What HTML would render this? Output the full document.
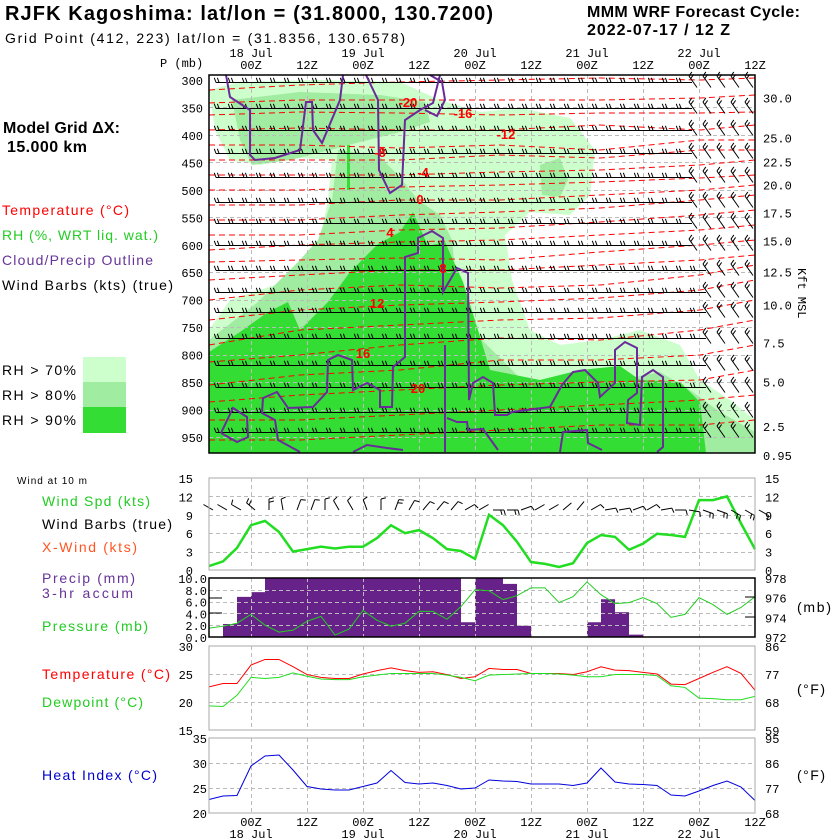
<!DOCTYPE html>
<html><head><meta charset="utf-8"><style>
html,body{margin:0;padding:0;background:#fff;}
svg{display:block;font-family:"Liberation Sans","DejaVu Sans",sans-serif;}
.tk{font-family:"Liberation Mono","DejaVu Sans Mono",monospace;font-size:12px;}
</style></head><body>
<svg id="chart" width="840" height="840" viewBox="0 0 840 840" xmlns="http://www.w3.org/2000/svg">
<g>
<text x="5" y="20" font-size="20" font-weight="bold" textLength="488">RJFK Kagoshima:  lat/lon = (31.8000, 130.7200)</text>
<text x="5" y="43" font-size="14" textLength="400">Grid Point (412, 223) lat/lon = (31.8356, 130.6578)</text>
<text x="587" y="17" font-size="16" font-weight="bold" textLength="213">MMM WRF Forecast Cycle:</text>
<text x="587" y="35" font-size="16" font-weight="bold" textLength="143">2022-07-17 / 12  Z</text>
<text x="3" y="133" font-size="16" font-weight="bold" textLength="117">Model Grid ΔX:</text>
<text x="7" y="152" font-size="16" font-weight="bold" textLength="80">15.000 km</text>
<text x="2" y="215" font-size="14" fill="#ff0000" textLength="127">Temperature (°C)</text>
<text x="2" y="240" font-size="14" fill="#22cc22" textLength="156">RH (%, WRT liq. wat.)</text>
<text x="2" y="265" font-size="14" fill="#663399" textLength="151">Cloud/Precip Outline</text>
<text x="2" y="290" font-size="14" fill="#000" textLength="171">Wind Barbs (kts) (true)</text>
<text x="2" y="375" font-size="14" textLength="74">RH &gt; 70%</text>
<text x="2" y="400" font-size="14" textLength="74">RH &gt; 80%</text>
<text x="2" y="425" font-size="14" textLength="74">RH &gt; 90%</text>
<rect x="83" y="357" width="43" height="25" fill="#ccffcc"/>
<rect x="83" y="382" width="43" height="25" fill="#a0eca0"/>
<rect x="83" y="407" width="43" height="26" fill="#33dd33"/>
<text x="17" y="484" font-size="10" textLength="70">Wind at 10 m</text>
<text x="42" y="506" font-size="14" fill="#22cc22" textLength="108">Wind Spd (kts)</text>
<text x="42" y="529" font-size="14" textLength="130">Wind Barbs (true)</text>
<text x="42" y="552" font-size="14" fill="#ff5522" textLength="95">X-Wind (kts)</text>
<text x="42" y="583" font-size="14" fill="#663399" textLength="93">Precip (mm)</text>
<text x="42" y="598" font-size="14" fill="#663399" textLength="91">3-hr accum</text>
<text x="42" y="631" font-size="14" fill="#22cc22" textLength="106">Pressure (mb)</text>
<text x="42" y="679" font-size="14" fill="#ff0000" textLength="128">Temperature (°C)</text>
<text x="42" y="707" font-size="14" fill="#22cc22" textLength="101">Dewpoint (°C)</text>
<text x="42" y="780" font-size="14" fill="#0000cc" textLength="115">Heat Index (°C)</text>
<text x="797" y="612" font-size="14" textLength="34">(mb)</text>
<text x="797" y="694" font-size="14" textLength="28">(°F)</text>
<text x="797" y="780" font-size="14" textLength="28">(°F)</text>
<text x="160" y="67" class="tk">P (mb)</text>
<text x="0" y="0" class="tk" font-size="11" transform="translate(798,268) rotate(90)">Kft MSL</text>
</g>
<g id="topG"></g>
<g id="bottom"></g>
</svg>
<script>
// ---- data ----
const timeTicks = ["00Z","12Z","00Z","12Z","00Z","12Z","00Z","12Z","00Z","12Z"];
const dateTicks = ["18 Jul","19 Jul","20 Jul","21 Jul","22 Jul"];
const pressureLevels = [300,350,400,450,500,550,600,650,700,750,800,850,900,950];
const heightTicks = ["30.0","25.0","22.5","20.0","17.5","15.0","12.5","10.0","7.5","5.0","2.5","0.95"];
const heightTickP = [332,405,448,490,541,592,649,709,778,849,930,983];
const windSpeed = [0.65,1.4,3.6,7.3,8.0,6.2,3.0,3.4,3.8,3.5,3.8,3.8,5.2,7.3,6.0,6.5,5.2,3.4,3.1,1.8,9.0,7.3,4.6,1.3,1.0,0.5,1.1,4.4,5.7,5.4,3.3,4.3,5.9,5.7,5.4,11.4,11.4,12.0,7.6,3.4];
const precip3h = [0,2.2,6.8,7.6,12,12,12,12,12,12,12,12,12,12,12,12,12,12,2.5,12,12,9.0,1.9,0,0,0,0,2.5,6.4,4.2,0.4,0,0,0,0,0,0,0,0];
const pressure = [972.9,973.1,973.4,974.3,973.2,972.5,972.7,973.6,974.1,972.2,972.8,974.7,973.7,973.1,973.4,974.6,974.6,973.8,975.1,976.8,976.7,975.8,976.2,977.0,977.0,975.5,976.1,977.6,976.3,975.4,975.5,976.0,975.4,974.0,974.3,976.0,975.3,974.3,975.0,976.1];
const temperature = [22.7,23.3,23.3,26.6,27.6,27.6,26.3,24.9,24.4,24.2,24.2,25.0,25.6,26.1,25.6,25.3,25.4,24.9,24.2,24.5,26.0,25.8,25.8,25.1,25.1,25.1,24.9,25.4,26.3,25.7,25.6,25.3,25.0,23.2,23.1,24.2,25.3,26.3,25.1,22.1];
const dewpoint = [19.3,19.2,21.2,24.4,24.2,24.4,25.2,24.6,24.1,24.0,24.0,24.5,24.8,25.1,25.1,25.1,25.1,24.8,24.4,23.8,24.8,24.9,25.0,25.1,25.1,25.0,24.8,24.5,24.5,24.9,24.9,24.9,24.7,22.9,22.6,20.7,20.6,20.4,20.4,21.0];
const heatIndex = [22.7,23.4,23.5,29.4,31.4,31.6,28.6,25.3,24.8,24.6,24.6,25.3,26.0,28.5,26.1,25.8,26.0,25.5,24.8,25.0,26.6,26.4,26.3,25.8,25.8,25.8,25.5,26.0,29.0,26.2,25.8,25.7,25.5,23.6,23.4,24.4,25.5,26.4,25.2,22.5];
const sfcWindDir = [300,300,300,310,0,350,20,20,0,330,330,340,0,20,30,40,40,40,60,60,90,90,70,60,60,50,40,60,80,80,70,60,80,90,100,110,110,120,120,120];
const tempLabels = ["-20","-16","-12","-8","-4","0","4","8","12","16","20"];
const tempLabelPos = [[408,107],[463,118],[506,139],[380,157],[423,177],[420,204],[390,237],[443,273],[377,308],[363,358],[418,393]];

// ---- helpers ----
const NS="http://www.w3.org/2000/svg";
const X0=209, DX=14;
function xAt(i){return X0+DX*i;}
function pY(p){return 80+(p-300)*27.46/50;}
function windY(v){return 570-v*92/15;}
function precipY(v){return 637-Math.min(v,10)*5.9;}
function presY(p){return 637-(p-972)*59/6;}
function tY(t){return 646+(30-t)*84/15;}
function hiY(h){return 738+(35-h)*5;}
function mk(parent,tag,attrs){const e=document.createElementNS(NS,tag);for(const k in attrs)e.setAttribute(k,attrs[k]);parent.appendChild(e);return e;}
function txt(parent,x,y,s,attrs){const e=mk(parent,'text',Object.assign({x:x,y:y},attrs||{}));e.textContent=s;return e;}
const topG=document.getElementById('topG'), bot=document.getElementById('bottom');
const gridX=[251,307,363,419,475,531,587,643,699];

// ---- top panel ----
mk(topG,'rect',{x:209,y:75,width:546,height:378,fill:'#fff'});
const rh=mk(topG,'g',{});
let e;
e=mk(rh,'polygon',{fill:'#ccffcc',points:'209,90 240,82 320,80 400,82 440,100 480,112 520,108 570,118 595,150 590,195 570,215 530,212 505,235 512,280 530,330 560,345 600,340 640,330 680,345 700,380 730,400 755,420 755,453 209,453 209,330 230,300 260,290 290,280 318,250 328,200 332,160 300,158 260,165 230,160 215,130'});


e=mk(rh,'polygon',{fill:'#a0eca0',points:'232,100 300,92 380,95 425,102 430,122 400,132 360,142 330,150 290,160 252,165 240,140'});


e=mk(rh,'polygon',{fill:'#a0eca0',points:'338,150 378,155 398,175 418,200 440,215 452,240 458,300 472,330 520,378 560,388 620,380 660,372 690,390 720,412 755,432 755,453 209,453 209,340 258,302 298,262 318,240 332,200'});


e=mk(rh,'polygon',{fill:'#a0eca0',points:'540,165 560,158 568,180 560,197 542,195'});


e=mk(rh,'polygon',{fill:'#33dd33',points:'209,352 240,332 268,312 288,302 300,330 328,302 350,272 378,244 400,232 413,212 428,246 445,242 463,282 478,330 490,370 540,380 580,370 620,366 640,380 680,382 700,402 706,453 209,453'});


mk(rh,'rect',{x:347,y:145,width:3,height:45,fill:'#33dd33'});

// grid
const tg=mk(topG,'g',{stroke:'#bbb','stroke-dasharray':'4,3','stroke-width':1});
gridX.forEach(x=>mk(tg,'line',{x1:x+0.5,y1:75,x2:x+0.5,y2:453}));
pressureLevels.forEach(p=>{if(p>300)mk(tg,'line',{x1:209,y1:Math.round(pY(p))+0.5,x2:755,y2:Math.round(pY(p))+0.5});});

// temperature dashed lines
const tXs=[209,300,400,500,600,700,755];
const tLines=[[90,85,82,80,78,80,78],[103,100,100,100,100,98,95],[115,112,113,115,113,113,112],[130,128,130,130,125,130,125],[145,145,148,145,150,140,140],[160,160,160,155,158,150,150],[175,175,175,172,170,165,160],[190,190,187,185,182,178,175],[205,205,200,200,195,190,185],[220,220,215,212,208,200,195],[235,235,230,228,222,215,210],[250,245,242,240,235,230,225],[262,260,258,260,252,245,240],[280,275,270,270,265,260,255],[300,290,285,288,285,275,265],[320,310,305,302,298,290,280],[345,330,325,320,318,310,300],[362,355,345,338,340,330,320],[385,375,370,360,360,355,345],[402,395,390,385,382,380,370],[420,420,415,410,405,400,395],[440,440,435,430,425,425,420]];
const tl=mk(topG,'g',{fill:'none',stroke:'#ff0000','stroke-width':1,'stroke-dasharray':'6,4'});
tLines.forEach(l=>{const line=mk(tl,'polyline',{points:l.map((y,k)=>tXs[k]+','+y).join(' ')});

});

// wind barbs
const bg=mk(topG,'g',{stroke:'#000','stroke-width':1,fill:'none'});
const rows=[82,108,130,153,177,202,223,245,270,292,312,338,365,387,412,432];
function barb(g,x,y,ang,n,fl){
  const a=ang*Math.PI/180, L=14;
  const ex=x+L*Math.cos(a), ey=y-L*Math.sin(a);
  mk(g,'line',{x1:x,y1:y,x2:ex,y2:ey});
  const fa=a-Math.PI*70/180;
  for(let k=0;k<n;k++){
    const t=1-k*0.22;
    const bx=x+L*t*Math.cos(a), by=y-L*t*Math.sin(a);
    mk(g,'line',{x1:bx,y1:by,x2:bx+fl*Math.cos(fa),y2:by-fl*Math.sin(fa)});
  }
}
rows.forEach((y,r)=>{
  const yy=Math.round(y)+0.5;
  const diagStart = (y<250)?690:(y>390?700:695);
  for(let i=0;i<39;i++){
    const x=xAt(i)+7;
    if(x<diagStart){
      barb(bg,x+14,yy,180,2,5);
    } else {
      barb(bg,x+5,yy+5,125,2,5);
    }
  }
});

// cloud outlines
const cg=mk(topG,'g',{fill:'none',stroke:'#6a2a9a','stroke-width':2});
const outlines=[
'226,75 230,97 250,110 250,155 255,160 275,158 300,150 306,102 312,102 313,130 322,143 340,100 343,75',
'366,75 378,100 379,170 390,193 402,185 405,120 420,110 433,103 440,75',
'430,75 442,82 445,100 437,116 425,110',
'221,433 233,408 247,417 248,437 237,442 221,433',
'300,452 278,440 275,420 262,413 263,398 277,392 288,408 313,407 327,392 328,360 338,355 352,360 353,390 367,383 380,390 380,407 392,407 393,367 405,357 405,257 418,253 418,238 432,231 443,238 443,292 457,268 468,273 469,400 473,383 483,377 493,383 495,415 507,415 512,412 550,407 562,385 573,372 585,370 598,383 600,397 615,383 615,350 625,342 637,348 637,393 628,400 627,423 640,425 642,377 653,370 663,377 663,447 657,452',
'353,452 367,445 387,448 403,450',
'445,345 445,452',
'447,418 457,422 467,422 468,430 483,429 498,450',
'560,452 563,432 587,430 588,443 602,450'];
outlines.forEach(p=>{const o=mk(cg,'polyline',{points:p});

});

// temperature labels
tempLabels.forEach((s,k)=>{const t=txt(topG,tempLabelPos[k][0],tempLabelPos[k][1],s,{'font-size':13,'font-weight':'bold',fill:'#ff0000','text-anchor':'middle'});

});

mk(topG,'rect',{x:209,y:75,width:546,height:378,fill:'none',stroke:'#000','stroke-width':1.5});
// axis labels
pressureLevels.forEach(p=>{const t=txt(topG,203,pY(p)+5,String(p),{'class':'tk','text-anchor':'end'});

});
heightTicks.forEach((s,k)=>{const t=txt(topG,763,pY(heightTickP[k])+5,s,{'class':'tk'});

});
timeTicks.forEach((s,k)=>{const t=txt(topG,251+56*k,69,s,{'class':'tk','text-anchor':'middle'});


const b=txt(bot,251+56*k,826,s,{'class':'tk','text-anchor':'middle'});

});
dateTicks.forEach((s,k)=>{const t=txt(topG,251+112*k,57,s,{'class':'tk','text-anchor':'middle'});


const b=txt(bot,251+112*k,838,s,{'class':'tk','text-anchor':'middle'});

});

// ---- bottom panels ----
function panel(y0,y1,hLines){
  const g=mk(bot,'g',{});
  const gg=mk(g,'g',{stroke:'#bbb','stroke-dasharray':'4,3'});
  gridX.forEach(x=>mk(gg,'line',{x1:x+0.5,y1:y0,x2:x+0.5,y2:y1}));
  hLines.forEach(y=>mk(gg,'line',{x1:209,y1:Math.round(y)+0.5,x2:755,y2:Math.round(y)+0.5}));
  return g;
}
function frame(y0,y1,color){mk(bot,'rect',{x:209,y:y0,width:546,height:y1-y0,fill:'none',stroke:color,'stroke-width':color=='#000'?1.5:1});}
function ticks(vals,yf,x,anchor,name){vals.forEach(v=>{const t=txt(bot,x,yf(v)+5,v.s,{'class':'tk','text-anchor':anchor});

});}

// wind panel
panel(478,570,[3,6,9,12].map(windY));
const wl=mk(bot,'polyline',{fill:'none',stroke:'#22dd22','stroke-width':2.5,points:windSpeed.map((v,i)=>xAt(i)+','+windY(v)).join(' ')});


const sb=mk(bot,'g',{stroke:'#000','stroke-width':1,fill:'none'});
sfcWindDir.forEach((d,i)=>{
  const a=(90-d)*Math.PI/180, x=xAt(i)+4, y=510, L=11;
  const ex=x+L*Math.cos(a), ey=y-L*Math.sin(a);
  const s=mk(sb,'line',{x1:x,y1:y,x2:ex,y2:ey});
  
  
  const n=windSpeed[i]>7?2:(windSpeed[i]>2?1:0);
  for(let k=0;k<n;k++){const t=1-k*0.3;const bx=x+L*t*Math.cos(a),by=y-L*t*Math.sin(a);const fa=a-Math.PI*75/180;
    mk(sb,'line',{x1:bx,y1:by,x2:bx+5*Math.cos(fa),y2:by-5*Math.sin(fa)});}
});
frame(478,570,'#aaa');
ticks([15,12,9,6,3,0].map(v=>({v:v,s:String(v)})), o=>windY(o.v), 193,'end','wind-tick-left');
ticks([15,12,9,6,3,0].map(v=>({v:v,s:String(v)})), o=>windY(o.v), 765,'start','wind-tick-right');

// precip panel
const pg=mk(bot,'g',{fill:'#662288'});
precip3h.forEach((v,k)=>{if(v>0){const r=mk(pg,'rect',{x:xAt(k),y:precipY(v),width:DX,height:637-precipY(v)});

}});
panel(578,637,[2,4,6,8].map(v=>637-v*5.9));
const pl=mk(bot,'polyline',{fill:'none',stroke:'#22cc22','stroke-width':1,points:pressure.map((v,i)=>xAt(i)+','+presY(v)).join(' ')});


frame(578,637,'#000');
mk(bot,'line',{x1:209,y1:613,x2:222,y2:613,stroke:'#000'});
mk(bot,'line',{x1:209,y1:598,x2:222,y2:598,stroke:'#000'});
mk(bot,'line',{x1:745,y1:597,x2:755,y2:597,stroke:'#000'});
mk(bot,'line',{x1:745,y1:617,x2:755,y2:617,stroke:'#000'});
ticks(['10.0','8.0','6.0','4.0','2.0','0.0'].map((s,k)=>({v:10-2*k,s:s})), o=>637-o.v*5.9, 207,'end','precip-tick');
ticks([978,976,974,972].map(v=>({v:v,s:String(v)})), o=>presY(o.v), 765,'start','pressure-tick');

// temperature panel
panel(646,730,[25,20].map(tY));
const trl=mk(bot,'polyline',{fill:'none',stroke:'#ff0000','stroke-width':1,points:temperature.map((v,i)=>xAt(i)+','+tY(v)).join(' ')});


const dpl=mk(bot,'polyline',{fill:'none',stroke:'#22dd22','stroke-width':1,points:dewpoint.map((v,i)=>xAt(i)+','+tY(v)).join(' ')});


frame(646,730,'#aaa');
ticks([30,25,20,15].map(v=>({v:v,s:String(v)})), o=>tY(o.v), 193,'end','temp-tick-c');
ticks([[30,'86'],[25,'77'],[20,'68'],[15,'59']].map(a=>({v:a[0],s:a[1]})), o=>tY(o.v), 765,'start','temp-tick-f');

// heat index panel
panel(738,813,[30,25].map(hiY));
const hil=mk(bot,'polyline',{fill:'none',stroke:'#0000dd','stroke-width':1,points:heatIndex.map((v,i)=>xAt(i)+','+hiY(v)).join(' ')});


frame(738,813,'#aaa');
ticks([35,30,25,20].map(v=>({v:v,s:String(v)})), o=>hiY(o.v), 207,'end','hi-tick-c');
ticks([[35,'95'],[30,'86'],[25,'77'],[20,'68']].map(a=>({v:a[0],s:a[1]})), o=>hiY(o.v), 765,'start','hi-tick-f');
</script>
</body></html>
